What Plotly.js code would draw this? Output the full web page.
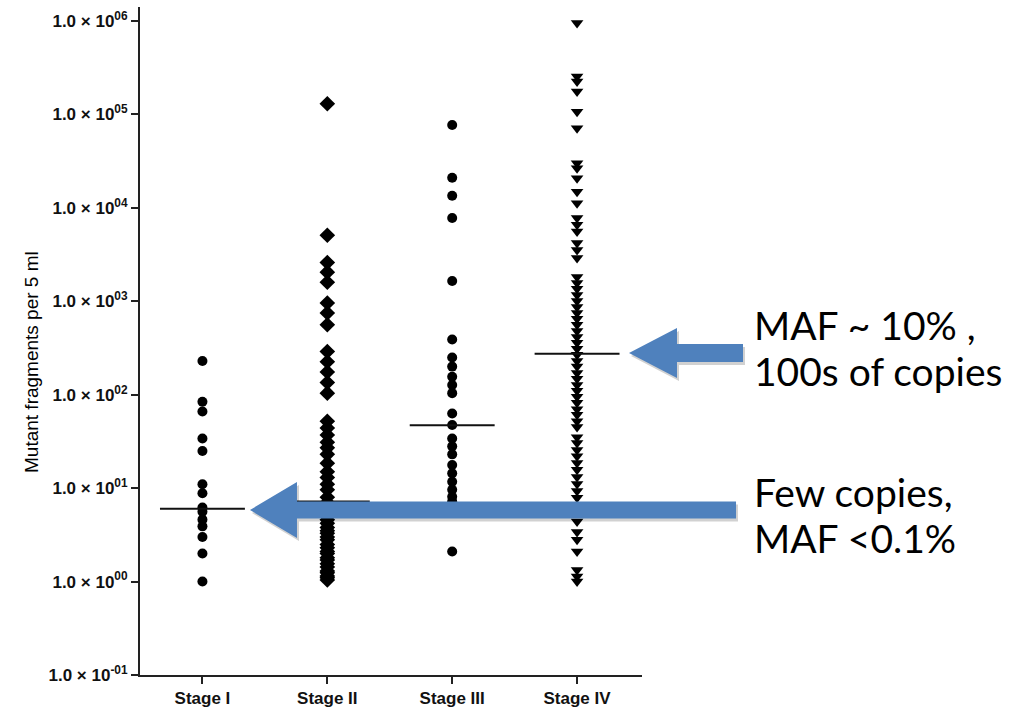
<!DOCTYPE html>
<html>
<head>
<meta charset="utf-8">
<script src="https://cdn.plot.ly/plotly-3.0.1.min.js"></script>
<style>html,body{margin:0;padding:0;background:#fff;}#chart{width:1021px;height:707px;}</style>
</head>
<body>
<div id="chart"></div>
<script>
// ---- data ----
const categories = ['Stage I', 'Stage II', 'Stage III', 'Stage IV'];
const stageI = [230, 84, 66, 34, 25, 11, 8.8, 6.2, 5.6, 4.6, 3.9, 3.0, 2.0, 1.0];
const stageII = [130000, 5100, 2600, 2050, 1600, 960, 750, 560, 290, 225, 175, 135, 104,
  52, 44, 37, 31, 27, 23, 18.5, 15, 13, 11, 9.6, 8.0, 7.0, 6.6, 6.1, 5.6, 5.1, 4.6, 4.2, 3.8,
  3.5, 3.3, 3.0, 2.8, 2.5, 2.3, 2.1, 2.0, 1.8, 1.7, 1.55, 1.43, 1.3, 1.24, 1.15, 1.1, 1.04];
const stageIII = [77000, 21000, 13500, 7800, 1650, 390, 250, 200, 156, 127, 104, 63, 47.5,
  34, 28, 23, 17.7, 14.4, 11.7, 9.6, 8.1, 7.2, 2.1];
const stageIV = [950000, 255000, 225000, 176000, 107000, 71000, 30000, 26600, 20800, 14900,
  11200, 7800, 6600, 5600, 4200, 3550, 2900, 1820, 1570, 1360, 1170, 1010, 870, 750, 650, 560,
  480, 416, 360, 310, 267, 230, 200, 171, 148, 127, 110, 95, 82, 70, 61, 52, 45, 35, 30.5,
  25.6, 22, 18.6, 15.7, 13.2, 11.1, 9.3, 7.9, 6.0, 4.4, 3.4, 2.8, 2.1, 1.33, 1.13, 1.0];
const medians = [6.0, 7.2, 47, 275];
const yTickVals = [0.1, 1, 10, 100, 1000, 10000, 100000, 1000000];
const yTickText = ['1.0 × 10<sup>-01</sup>', '1.0 × 10<sup>00</sup>', '1.0 × 10<sup>01</sup>',
  '1.0 × 10<sup>02</sup>', '1.0 × 10<sup>03</sup>', '1.0 × 10<sup>04</sup>',
  '1.0 × 10<sup>05</sup>', '1.0 × 10<sup>06</sup>'];
const yTitle = 'Mutant fragments per 5 ml';
const noteTop = ['MAF ~ 10% ,', '100s of copies'];
const noteBottom = ['Few copies,', 'MAF <0.1%'];

// ---- traces ----
const series = [stageI, stageII, stageIII, stageIV];
const symbols = ['circle', 'diamond', 'circle', 'triangle-down'];
const sizes = [10, 12, 10, 11];
const traces = series.map((vals, i) => ({
  type: 'scatter', mode: 'markers',
  x: vals.map(() => i), y: vals,
  marker: {symbol: symbols[i], size: sizes[i], color: '#000', line: {width: 0}},
  hoverinfo: 'y', showlegend: false
}));
medians.forEach((m, i) => {
  traces.push({
    type: 'scatter', mode: 'lines',
    x: [i - 0.34, i + 0.34], y: [m, m],
    line: {color: '#111', width: 2}, hoverinfo: 'skip', showlegend: false
  });
});

// ---- geometry helpers for the decorative block arrows (pixel -> paper) ----
const L = 140, R = 379, T = 7, B = 32, W = 1021, H = 707;
const pw = W - L - R, ph = H - T - B;
const px = x => (x - L) / pw;
const py = y => (H - B - y) / ph;
function arrowPath(tipX, tipY, headX, headHalf, shaftHalf, tailX, dx, dy) {
  dx = dx || 0; dy = dy || 0;
  const pts = [
    [tipX, tipY],
    [headX, tipY - headHalf],
    [headX, tipY - shaftHalf],
    [tailX, tipY - shaftHalf],
    [tailX, tipY + shaftHalf],
    [headX, tipY + shaftHalf],
    [headX, tipY + headHalf]
  ];
  return 'M ' + pts.map(p => px(p[0] + dx).toFixed(4) + ',' + py(p[1] + dy).toFixed(4)).join(' L ') + ' Z';
}
const blue = '#4F81BD';
const shapes = [
  {type: 'path', xref: 'paper', yref: 'paper', layer: 'above', path: arrowPath(629, 353, 677, 25, 9, 743, 2, 3), fillcolor: 'rgba(0,0,0,0.18)', line: {width: 0}},
  {type: 'path', xref: 'paper', yref: 'paper', layer: 'above', path: arrowPath(629, 353, 677, 25, 9, 743), fillcolor: blue, line: {width: 0}},
  {type: 'path', xref: 'paper', yref: 'paper', layer: 'above', path: arrowPath(250, 510, 297, 28, 8.5, 736, 2, 3), fillcolor: 'rgba(0,0,0,0.18)', line: {width: 0}},
  {type: 'path', xref: 'paper', yref: 'paper', layer: 'above', path: arrowPath(250, 510, 297, 28, 8.5, 736), fillcolor: blue, line: {width: 0}}
];

const axFont = 'Liberation Sans, Arial, sans-serif';
const noteFont = {family: 'Lato, Carlito, sans-serif', size: 39, color: '#000'};
const annotations = [];
[[noteTop, [325, 371]], [noteBottom, [492, 538]]].forEach(([lines, ys]) => {
  lines.forEach((t, k) => annotations.push({
    xref: 'paper', yref: 'paper', x: px(752), y: py(ys[k]),
    xanchor: 'left', yanchor: 'middle', showarrow: false, text: t, font: noteFont
  }));
});
annotations.push({
  xref: 'paper', yref: 'paper', x: px(31), y: py(362), xanchor: 'center', yanchor: 'middle',
  textangle: -90, showarrow: false, text: yTitle,
  font: {family: axFont, size: 19, color: '#000'}
});

const layout = {
  width: W, height: H,
  margin: {l: L, r: R, t: T, b: B},
  paper_bgcolor: '#fff', plot_bgcolor: '#fff',
  showlegend: false,
  xaxis: {
    range: [-0.5, 3.52], tickvals: [0, 1, 2, 3], ticktext: categories,
    showgrid: false, zeroline: false, showline: true, linewidth: 2, linecolor: '#222',
    ticks: 'outside', ticklen: 7, tickwidth: 2, tickcolor: '#222',
    tickfont: {family: axFont, size: 17, color: '#111', weight: 'bold'}
  },
  yaxis: {
    type: 'log', range: [-1, 6.15],
    tickvals: yTickVals, ticktext: yTickText,
    showgrid: false, zeroline: false, showline: true, linewidth: 2, linecolor: '#222',
    ticks: 'outside', ticklen: 7, tickwidth: 2, tickcolor: '#222',
    tickfont: {family: axFont, size: 17, color: '#111', weight: 'bold'}
  },
  shapes: shapes,
  annotations: annotations
};

Plotly.newPlot('chart', traces, layout, {displayModeBar: false, staticPlot: true});
</script>
</body>
</html>
